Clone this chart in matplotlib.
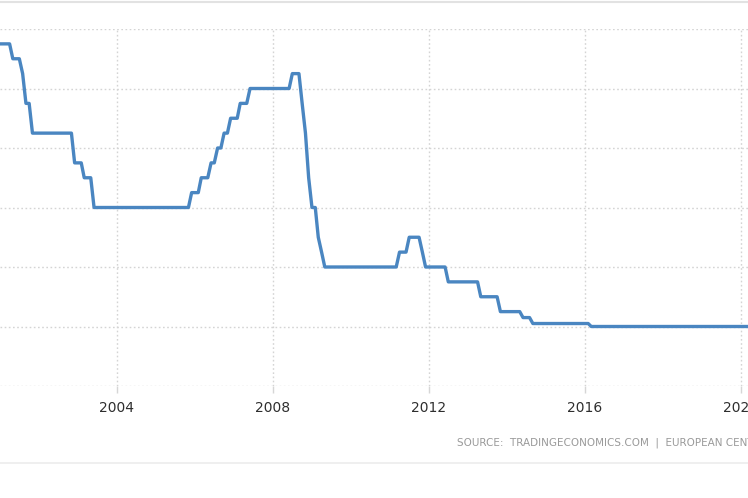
import matplotlib
matplotlib.use("Agg")
import matplotlib.pyplot as plt
import matplotlib.dates as mdates
import pandas as pd
from matplotlib.lines import Line2D

# Vertices of the rate line (month, rate %)
dates = [
    "2000-12", "2001-04", "2001-05", "2001-07", "2001-08", "2001-09", "2001-10", "2001-11",
    "2002-11", "2002-12", "2003-02", "2003-03", "2003-05", "2003-06",
    "2005-11", "2005-12", "2006-02", "2006-03", "2006-05", "2006-06", "2006-07", "2006-08",
    "2006-09", "2006-10", "2006-11", "2006-12", "2007-02", "2007-03", "2007-05", "2007-06",
    "2008-06", "2008-07", "2008-09", "2008-10", "2008-11", "2008-12", "2009-01", "2009-02",
    "2009-03", "2009-04", "2009-05", "2011-03", "2011-04", "2011-06", "2011-07", "2011-10",
    "2011-11", "2011-12", "2012-06", "2012-07", "2013-04", "2013-05", "2013-10", "2013-11",
    "2014-05", "2014-06", "2014-08", "2014-09", "2016-02", "2016-03", "2020-12",
]
rates = [
    4.75, 4.75, 4.50, 4.50, 4.25, 3.75, 3.75, 3.25,
    3.25, 2.75, 2.75, 2.50, 2.50, 2.00,
    2.00, 2.25, 2.25, 2.50, 2.50, 2.75, 2.75, 3.00,
    3.00, 3.25, 3.25, 3.50, 3.50, 3.75, 3.75, 4.00,
    4.00, 4.25, 4.25, 3.75, 3.25, 2.50, 2.00, 2.00,
    1.50, 1.25, 1.00, 1.00, 1.25, 1.25, 1.50, 1.50,
    1.25, 1.00, 1.00, 0.75, 0.75, 0.50, 0.50, 0.25,
    0.25, 0.15, 0.15, 0.05, 0.05, 0.00, 0.00,
]
tick_years = ["2004", "2008", "2012", "2016", "2020"]
y_grid = [-1, 0, 1, 2, 3, 4, 5]
source_text = "SOURCE:  TRADINGECONOMICS.COM  |  EUROPEAN CENTRAL BANK"

x = pd.to_datetime(dates)
W, H = 748, 498
fig = plt.figure(figsize=(W / 100, H / 100), dpi=100)
fig.patch.set_facecolor("white")

# axes: top at y=29px (value 5), bottom at y=386px (value -1)
ax = fig.add_axes([0, 1 - 386 / H, 1, (386 - 29) / H])
ax.set_facecolor("white")
ax.plot(x, rates, color="#4a86c1", lw=2.4, solid_joinstyle="round", zorder=3)

ax.set_xlim(pd.Timestamp("2001-01-01"), pd.Timestamp("2020-03-08"))
ax.set_ylim(-1, 5)
ax.set_yticks(y_grid)
ax.set_xticks(pd.to_datetime([y + "-01-01" for y in tick_years]))
ax.xaxis.set_major_formatter(mdates.DateFormatter("%Y"))
ax.tick_params(axis="y", left=False, labelleft=False)
ax.tick_params(axis="x", length=5, color="#d6d6d6", width=1, pad=6,
               labelsize=10, labelcolor="#2e2e2e")
for s in ax.spines.values():
    s.set_visible(False)
ax.grid(True, color="#d4d4d4", linestyle=(0, (1.2, 1.8)), linewidth=1)
ax.set_axisbelow(True)

# top and bottom frame lines
fig.add_artist(Line2D([0, 1], [1 - 2 / H, 1 - 2 / H], color="#e2e2e2", lw=1.5))
fig.add_artist(Line2D([0, 1], [1 - 463 / H, 1 - 463 / H], color="#ececec", lw=1.2))

fig.text(457 / W, 1 - 443 / H, source_text, ha="left", va="center",
         fontsize=7.5, color="#9a9a9a", family="DejaVu Sans")

fig.savefig("out.png", dpi=100, facecolor="white")
